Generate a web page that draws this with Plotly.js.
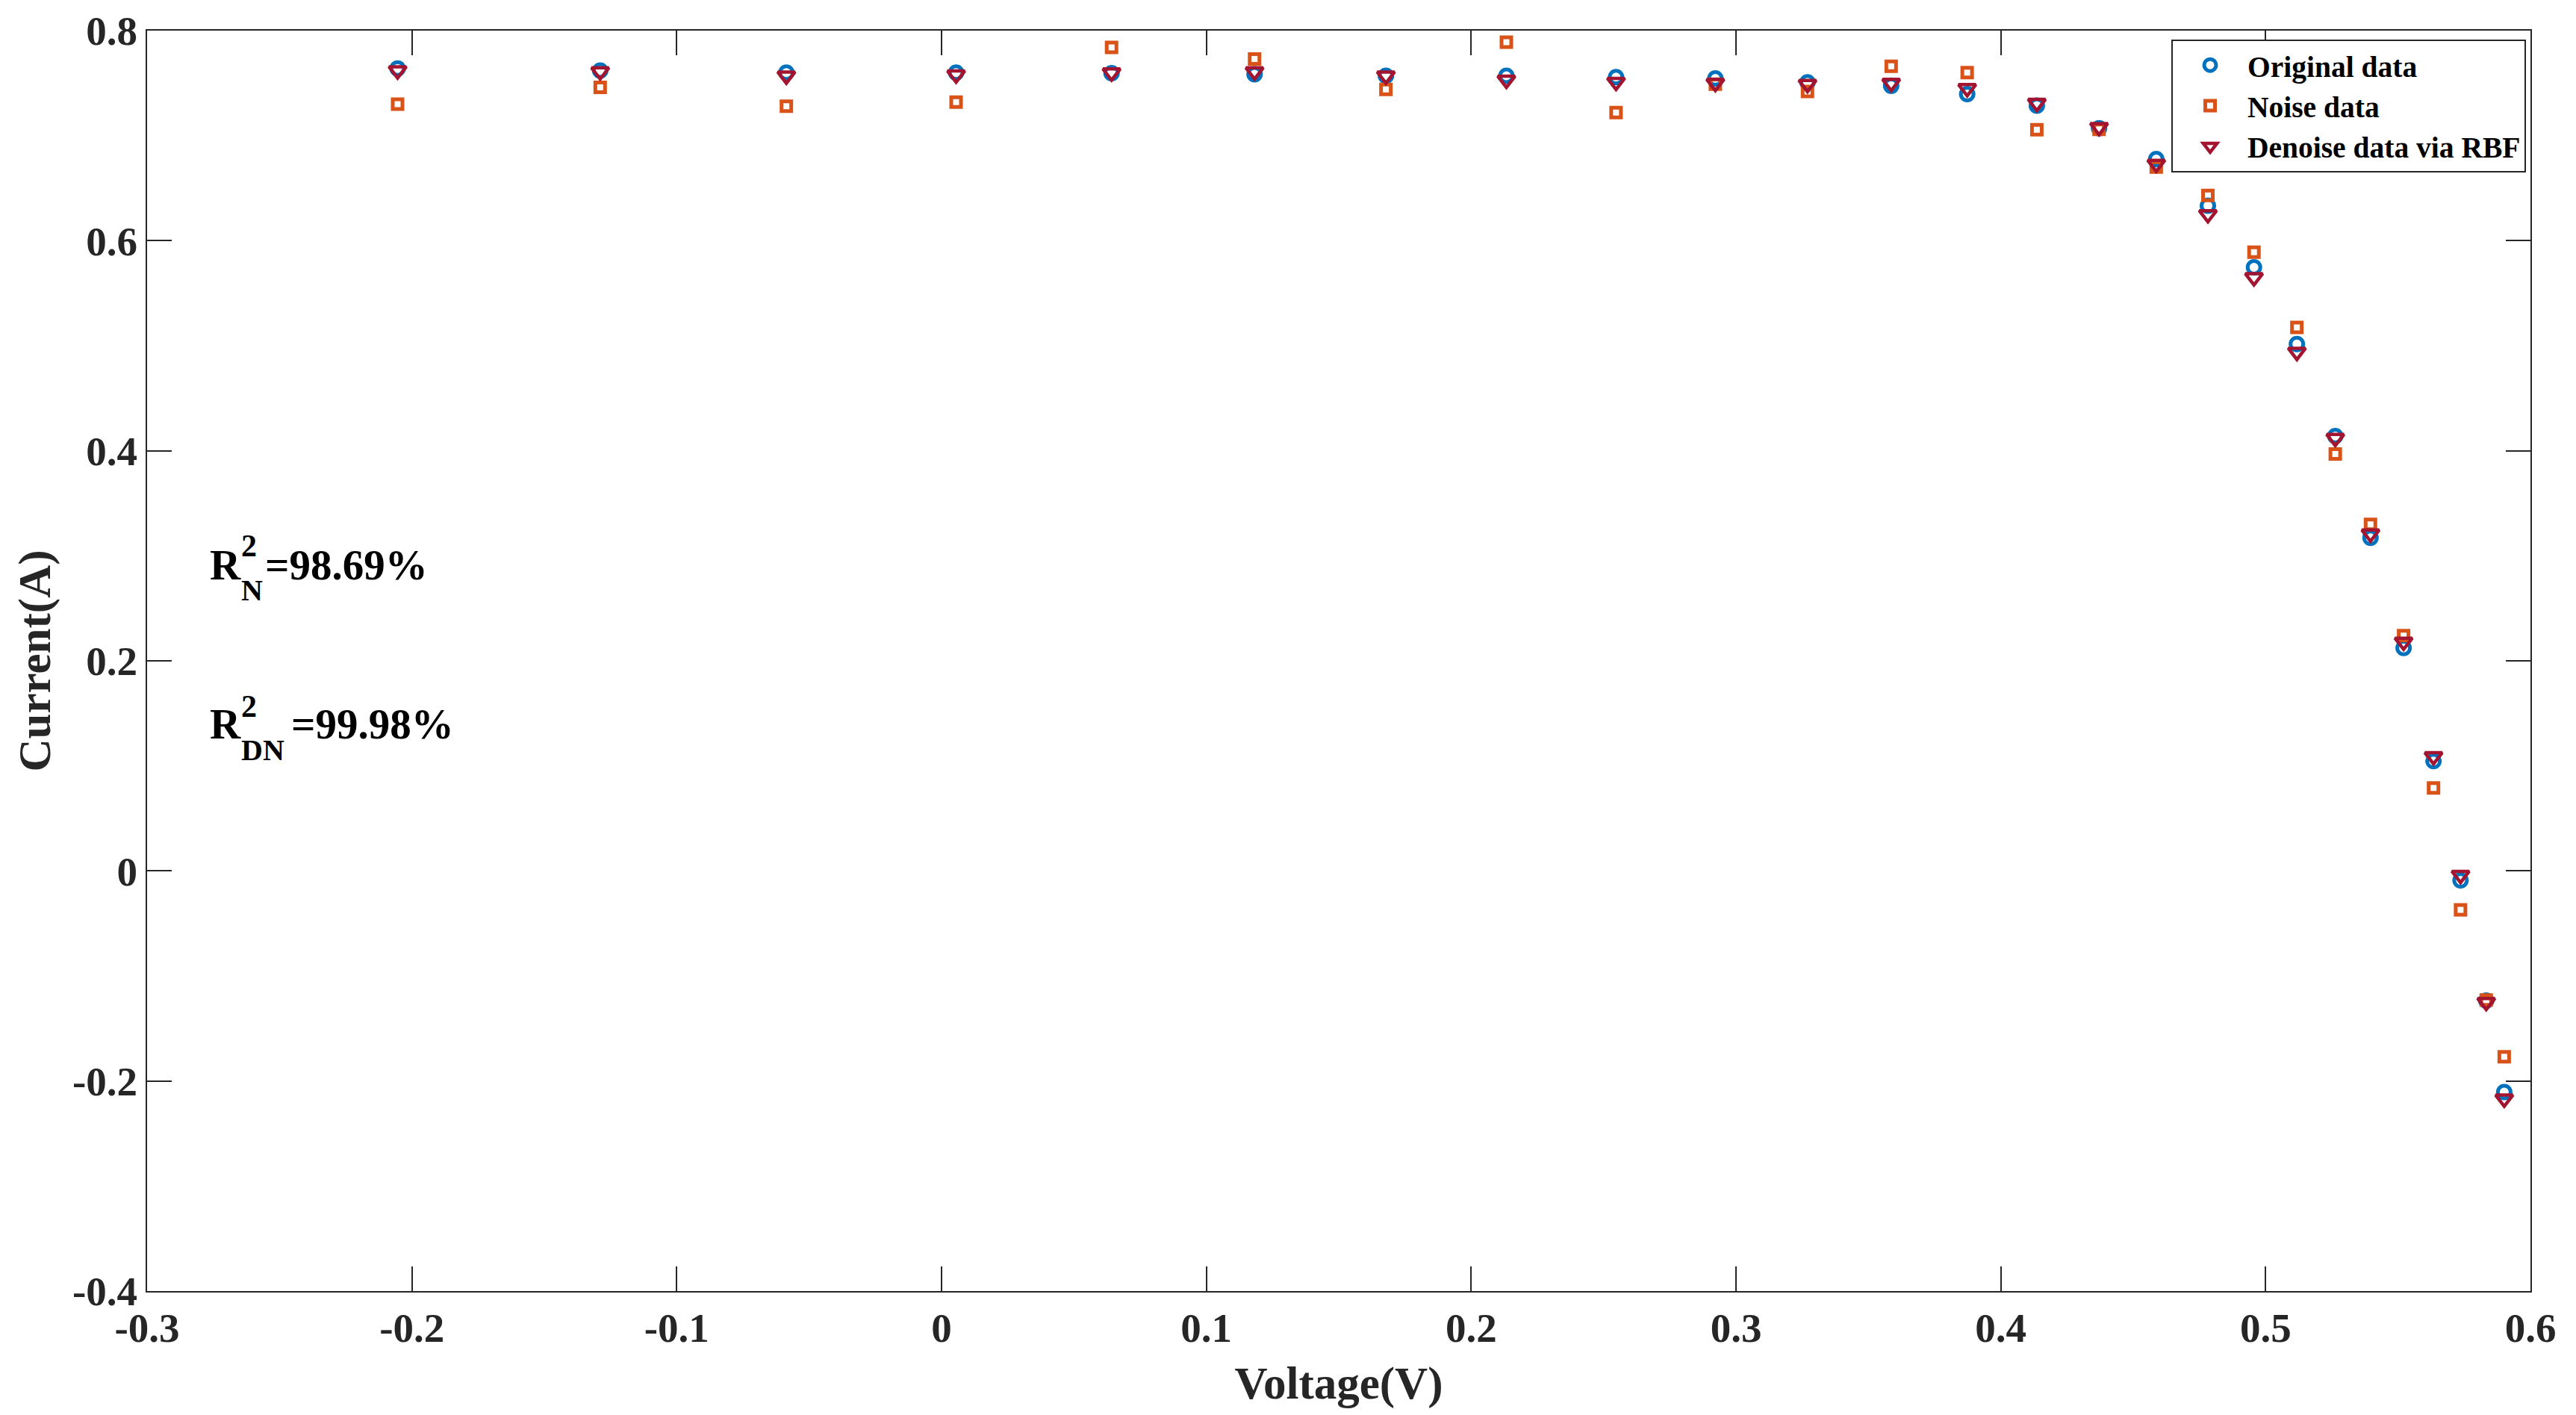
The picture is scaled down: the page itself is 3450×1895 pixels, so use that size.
<!DOCTYPE html>
<html>
<head>
<meta charset="utf-8">
<script src="https://cdn.plot.ly/plotly-3.0.1.min.js"></script>
<style>html,body{margin:0;padding:0;background:#fff;}#chart{width:3450px;height:1895px;}</style>
</head>
<body>
<div id="chart"></div>
<script>
// ---- data ----
const voltage = [-0.2054,-0.1289,-0.0586,0.0055,0.0642,0.1182,0.1678,0.2133,0.2547,0.2922,0.3270,0.3586,0.3873,0.4136,0.4371,0.4587,0.4782,0.4956,0.5118,0.5263,0.5396,0.5521,0.5634,0.5736,0.5833,0.5901];
const originalCurrent = [0.764,0.762,0.760,0.760,0.7595,0.7585,0.757,0.757,0.7557,0.7545,0.7507,0.7475,0.7396,0.7285,0.707,0.6777,0.6333,0.5746,0.5016,0.414,0.3172,0.2122,0.1045,-0.009,-0.1235,-0.2105];
const noiseCurrent = [0.730,0.746,0.728,0.732,0.784,0.773,0.744,0.789,0.722,0.749,0.742,0.766,0.760,0.7056,0.706,0.670,0.643,0.589,0.5175,0.397,0.330,0.224,0.079,-0.037,-0.123,-0.177];
const denoiseCurrent = [0.762,0.761,0.757,0.758,0.760,0.761,0.757,0.753,0.751,0.750,0.749,0.750,0.745,0.731,0.708,0.673,0.625,0.565,0.494,0.412,0.321,0.218,0.109,-0.004,-0.125,-0.217];
const seriesNames = ["Original data","Noise data","Denoise data via RBF"];
const xTickVals = [-0.3,-0.2,-0.1,0,0.1,0.2,0.3,0.4,0.5,0.6];
const xTickText = ["-0.3","-0.2","-0.1","0","0.1","0.2","0.3","0.4","0.5","0.6"];
const yTickVals = [-0.4,-0.2,0,0.2,0.4,0.6,0.8];
const yTickText = ["-0.4","-0.2","0","0.2","0.4","0.6","0.8"];

const FONT = "'Times New Roman', 'Liberation Serif', serif";
const AX = "#262626";

const traces = [
  {x: voltage, y: originalCurrent, name: seriesNames[0], type: "scatter", mode: "markers",
   marker: {symbol: "circle-open", size: 17, color: "#0072BD", line: {width: 5, color: "#0072BD"}}},
  {x: voltage, y: noiseCurrent, name: seriesNames[1], type: "scatter", mode: "markers",
   marker: {symbol: "square-open", size: 13, color: "#D95319", line: {width: 5, color: "#D95319"}}},
  {x: voltage, y: denoiseCurrent, name: seriesNames[2], type: "scatter", mode: "markers",
   marker: {symbol: "triangle-down-open", size: 20, color: "#A2142F", line: {width: 4.5, color: "#A2142F"}}}
];

function axisCommon() {
  return {
    showgrid: false, zeroline: false, showline: true, mirror: "ticks",
    linecolor: AX, linewidth: 2, ticks: "inside", ticklen: 33, tickwidth: 2, tickcolor: AX,
    tickfont: {family: FONT, size: 55, color: AX, weight: "bold"},
    tickmode: "array"
  };
}
const L = 197, R = 3389, T = 41, B = 1729;
function px(xf){ return (xf - L) / (R - L); }
function py(yf){ return (B - yf) / (B - T); }

const annFont = (s) => ({family: FONT, size: s, color: "#000", weight: "bold"});
const annotations = [
  {text: "R", x: px(279), y: py(756), font: annFont(57)},
  {text: "2", x: px(321), y: py(731), font: annFont(42)},
  {text: "N", x: px(321), y: py(790), font: annFont(40)},
  {text: "=98.69%", x: px(353), y: py(756), font: annFont(57)},
  {text: "R", x: px(279), y: py(970), font: annFont(57)},
  {text: "2", x: px(321), y: py(946), font: annFont(42)},
  {text: "DN", x: px(321), y: py(1005), font: annFont(40)},
  {text: "=99.98%", x: px(388), y: py(970), font: annFont(57)}
].map(a => Object.assign({xref: "paper", yref: "paper", xanchor: "left", yanchor: "middle", showarrow: false}, a));

const layout = {
  width: 3450, height: 1895,
  margin: {l: L, r: 3450 - R, t: T, b: 1895 - B},
  paper_bgcolor: "#fff", plot_bgcolor: "#fff",
  font: {family: FONT, color: "#000"},
  showlegend: true,
  legend: {
    x: px(3383), y: py(53), xanchor: "right", yanchor: "top",
    bgcolor: "#fff", bordercolor: AX, borderwidth: 2,
    font: {family: FONT, size: 39.5, color: "#000", weight: "bold"},
    itemwidth: 90, tracegroupgap: 0
  },
  xaxis: Object.assign(axisCommon(), {
    range: [-0.3, 0.6], tickvals: xTickVals, ticktext: xTickText,
    title: {text: "Voltage(V)", font: {family: FONT, size: 61, color: AX, weight: "bold"}, standoff: 22}
  }),
  yaxis: Object.assign(axisCommon(), {
    range: [-0.4, 0.8], tickvals: yTickVals, ticktext: yTickText,
    title: {text: "Current(A)", font: {family: FONT, size: 61, color: AX, weight: "bold"}, standoff: 10}
  }),
  annotations: annotations
};

Plotly.newPlot("chart", traces, layout, {staticPlot: true, displayModeBar: false});
</script>
</body>
</html>
